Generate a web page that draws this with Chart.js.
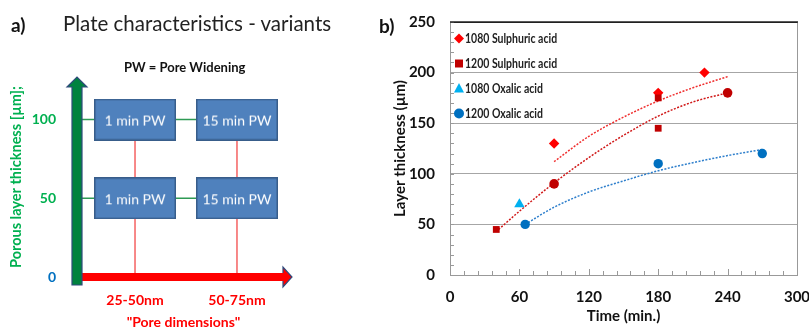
<!DOCTYPE html>
<html>
<head>
<meta charset="utf-8">
<script src="https://cdn.jsdelivr.net/npm/chart.js"></script>
<style>
  html, body { margin: 0; padding: 0; background: #fff; }
  body { width: 809px; height: 333px; position: relative; overflow: hidden; font-family: Lato, "Open Sans", sans-serif; }
  .txt { position: absolute; white-space: nowrap; line-height: 1; color: #111; }
  #wrapA { position: absolute; left: 0; top: 0; width: 360px; height: 333px; }
  #wrapB { position: absolute; left: 360px; top: 0; width: 449px; height: 333px; }
</style>
</head>
<body>
<div id="wrapA"><canvas id="chartA"></canvas></div>
<div id="wrapB"><canvas id="chartB"></canvas></div>
<div class="txt" style="left:11px; top:15px; font-size:19px; font-weight:bold;">a)</div>
<div class="txt" style="left:63px; top:13px; font-size:20.5px; color:#222;">Plate characteristics - variants</div>
<div class="txt" style="left:124px; top:61px; font-size:13px; font-weight:bold;">PW = Pore Widening</div>
<div class="txt" style="left:379px; top:16px; font-size:19px; font-weight:bold;">b)</div>
<script>
// ---- panel a) data ----
const poreLabels = ['25-50nm', '50-75nm'];
const poreIndex = [1, 2];
const thicknessLevels = [50, 100];
const thicknessTicks = [0, 50, 100];
const wideningLabels = ['1 min PW', '15 min PW'];

// ---- panel b) data ----
const seriesNames = ['1080 Sulphuric acid', '1200 Sulphuric acid', '1080 Oxalic acid', '1200 Oxalic acid'];
const time1080S = [90, 180, 220];
const thick1080S = [130, 180, 200];
const time1200S = [40, 90, 180, 180, 240];
const thick1200S = [45, 90, 175, 145, 180];
const time1080O = [60];
const thick1080O = [70];
const time1200O = [65, 180, 270];
const thick1200O = [50, 110, 120];

// trend lines
const trend1080S_t = [90, 120, 150, 180, 210, 240];
const trend1080S_y = [112, 137, 156, 172, 185, 196];
const trend1200S_t = [42, 60, 90, 120, 150, 180, 210, 240];
const trend1200S_y = [45, 63, 91, 116, 138, 157, 171, 180];
const trend1200O_t = [65, 90, 120, 150, 180, 210, 240, 270];
const trend1200O_y = [50, 67, 82, 93, 103, 111, 118, 124];

const timeTicksMajor = 60;

const pts = (xs, ys) => xs.map((x, i) => ({ x: x, y: ys[i] }));

// ================= panel a =================
function makeBox(text) {
  const c = document.createElement('canvas');
  c.width = 82; c.height = 42;
  const g = c.getContext('2d');
  g.fillStyle = '#4F81BD';
  g.fillRect(0, 0, 82, 42);
  g.strokeStyle = '#385D8A';
  g.lineWidth = 1.5;
  g.strokeRect(0.75, 0.75, 80.5, 40.5);
  g.fillStyle = '#fff';
  g.font = '14px Lato, sans-serif';
  g.textAlign = 'center';
  g.textBaseline = 'middle';
  g.fillText(text, 41, 22);
  return c;
}

const boxPoints = [];
const boxStyles = [];
thicknessLevels.forEach(t => {
  poreIndex.forEach((p, j) => {
    boxPoints.push({ x: p, y: t });
    boxStyles.push(makeBox(wideningLabels[j]));
  });
});

const X_MIN_A = 0.431;

const datasetsA = [{
  data: boxPoints,
  pointStyle: boxStyles,
  showLine: false,
  order: 0
}];
thicknessLevels.forEach(t => {
  datasetsA.push({
    data: [{ x: X_MIN_A, y: t }, { x: poreIndex[poreIndex.length - 1], y: t }],
    showLine: true, borderColor: '#2E9A55', borderWidth: 1.5, pointRadius: 0, order: 2
  });
});
poreIndex.forEach(p => {
  datasetsA.push({
    data: [{ x: p, y: 0 }, { x: p, y: thicknessLevels[thicknessLevels.length - 1] }],
    showLine: true, borderColor: '#F23A3A', borderWidth: 1.2, pointRadius: 0, order: 2
  });
});

const arrowsPlugin = {
  id: 'arrows',
  afterDatasetsDraw(chart) {
    const { ctx, chartArea: a } = chart;
    ctx.save();
    ctx.lineJoin = 'miter';
    ctx.strokeStyle = '#2F4B7C';
    ctx.lineWidth = 1.2;
    // red horizontal arrow
    const cy = a.bottom;
    const tip = a.right + 2;
    ctx.fillStyle = '#FF0000';
    ctx.beginPath();
    ctx.moveTo(a.left + 5, cy - 4);
    ctx.lineTo(tip - 9, cy - 4);
    ctx.lineTo(tip - 9, cy - 10);
    ctx.lineTo(tip, cy);
    ctx.lineTo(tip - 9, cy + 10);
    ctx.lineTo(tip - 9, cy + 4);
    ctx.lineTo(a.left + 5, cy + 4);
    ctx.closePath();
    ctx.fill();
    ctx.beginPath();
    ctx.moveTo(tip - 9, cy - 4);
    ctx.lineTo(tip - 9, cy - 10);
    ctx.lineTo(tip, cy);
    ctx.lineTo(tip - 9, cy + 10);
    ctx.lineTo(tip - 9, cy + 4);
    ctx.stroke();
    // green vertical arrow
    const cx = a.left;
    ctx.fillStyle = '#00823F';
    ctx.beginPath();
    ctx.moveTo(cx - 5, a.bottom + 8);
    ctx.lineTo(cx - 5, a.top + 10);
    ctx.lineTo(cx - 10, a.top + 10);
    ctx.lineTo(cx, a.top);
    ctx.lineTo(cx + 10, a.top + 10);
    ctx.lineTo(cx + 5, a.top + 10);
    ctx.lineTo(cx + 5, a.bottom + 8);
    ctx.closePath();
    ctx.fill();
    ctx.stroke();
    ctx.restore();
  }
};

new Chart(document.getElementById('chartA'), {
  type: 'scatter',
  data: { datasets: datasetsA },
  options: {
    responsive: true,
    maintainAspectRatio: false,
    animation: false,
    events: [],
    layout: { padding: { top: 77, right: 70, left: 0, bottom: 0 } },
    plugins: { legend: { display: false }, tooltip: { enabled: false } },
    scales: {
      x: {
        type: 'linear', min: X_MIN_A, max: 2.52,
        afterBuildTicks: s => { s.ticks = poreIndex.map(v => ({ value: v })); },
        afterFit: s => { s.height = 56; },
        grid: { display: false, drawTicks: false },
        border: { display: false },
        ticks: {
          callback: v => poreLabels[poreIndex.indexOf(v)],
          color: '#FF0000', padding: 15,
          font: { family: 'Lato', size: 14, weight: 'bold' }
        },
        title: {
          display: true, text: '"Pore dimensions"', color: '#FF0000',
          padding: { top: 0, bottom: 2 },
          font: { family: 'Lato', size: 14, weight: 'bold' }
        }
      },
      y: {
        min: 0, max: 127,
        afterBuildTicks: s => { s.ticks = thicknessTicks.map(v => ({ value: v })); },
        afterFit: s => { s.width = 77; },
        grid: { display: false, drawTicks: false },
        border: { display: false },
        ticks: {
          color: c => c.tick.value === 0 ? '#0070C0' : '#00B050',
          padding: 21,
          font: { family: 'Lato', size: 14, weight: 'bold' }
        },
        title: {
          display: true, text: 'Porous layer thickness [µm];', color: '#00B050',
          padding: { top: 8, bottom: 0 },
          font: { family: 'Lato', size: 14.5, weight: 'bold' }
        }
      }
    }
  },
  plugins: [arrowsPlugin]
});

// ================= panel b =================
const markerColors = ['#FF0000', '#C00000', '#00B0F0', '#0070C0'];
const markerStyles = ['rectRot', 'rect', 'triangle', 'circle'];

const frameTicksPlugin = {
  id: 'frameTicks',
  afterDraw(chart) {
    const { ctx, chartArea: a, scales: { x, y } } = chart;
    ctx.save();
    ctx.strokeStyle = '#999';
    ctx.lineWidth = 1;
    ctx.beginPath();
    for (let v = 0; v <= 250; v += 10) {
      const py = Math.round(y.getPixelForValue(v)) + 0.5;
      ctx.moveTo(a.left, py); ctx.lineTo(a.left + 4, py);
    }
    for (let v = 0; v <= 300; v += 12) {
      const px = Math.round(x.getPixelForValue(v)) + 0.5;
      const len = v % timeTicksMajor === 0 ? 6 : 4;
      ctx.moveTo(px, a.bottom); ctx.lineTo(px, a.bottom - len);
    }
    ctx.moveTo(a.right + 0.5, a.top); ctx.lineTo(a.right + 0.5, a.bottom);
    ctx.stroke();
    ctx.strokeStyle = '#222';
    ctx.lineWidth = 1.5;
    ctx.beginPath();
    ctx.moveTo(a.left, a.top); ctx.lineTo(a.right + 1, a.top);
    ctx.stroke();

    // legend inside plot
    const lx = a.left + 9;
    ctx.font = 'bold 12.5px Lato, sans-serif';
    ctx.textBaseline = 'middle';
    seriesNames.forEach((name, i) => {
      const ly = a.top + 16.5 + i * 25;
      ctx.fillStyle = markerColors[i];
      ctx.beginPath();
      if (markerStyles[i] === 'rectRot') {
        ctx.moveTo(lx, ly - 5); ctx.lineTo(lx + 5, ly); ctx.lineTo(lx, ly + 5); ctx.lineTo(lx - 5, ly);
      } else if (markerStyles[i] === 'rect') {
        ctx.rect(lx - 4, ly - 4, 8, 8);
      } else if (markerStyles[i] === 'triangle') {
        ctx.moveTo(lx, ly - 5.5); ctx.lineTo(lx + 5, ly + 4); ctx.lineTo(lx - 5, ly + 4);
      } else {
        ctx.arc(lx, ly, 5, 0, Math.PI * 2);
      }
      ctx.closePath();
      ctx.fill();
      ctx.save();
      ctx.translate(lx + 6, ly + 0.5);
      ctx.scale(0.84, 1);
      ctx.fillStyle = '#222';
      ctx.fillText(name, 0, 0);
      ctx.restore();
    });
    ctx.restore();
  }
};

const trend = (xs, ys, color) => ({
  type: 'line', data: pts(xs, ys), showLine: true,
  borderColor: color, borderWidth: 1.5, borderDash: [2, 1.5],
  pointRadius: 0, cubicInterpolationMode: 'monotone', order: 5
});

new Chart(document.getElementById('chartB'), {
  type: 'scatter',
  data: {
    datasets: [
      { label: seriesNames[0], data: pts(time1080S, thick1080S), pointStyle: 'rectRot', pointRadius: 5.2,
        backgroundColor: markerColors[0], borderWidth: 0, order: 1 },
      { label: seriesNames[1], data: pts(time1200S, thick1200S),
        pointStyle: ['rect', 'circle', 'rect', 'rect', 'circle'], pointRadius: [4.8, 4.8, 4.8, 4.8, 4.8],
        backgroundColor: markerColors[1], borderWidth: 0, order: 0 },
      { label: seriesNames[2], data: pts(time1080O, thick1080O), pointStyle: 'triangle', pointRadius: 6,
        backgroundColor: markerColors[2], borderWidth: 0, order: 1 },
      { label: seriesNames[3], data: pts(time1200O, thick1200O), pointStyle: 'circle', pointRadius: 4.7,
        backgroundColor: markerColors[3], borderWidth: 0, order: 1 },
      trend(trend1080S_t, trend1080S_y, '#F03030'),
      trend(trend1200S_t, trend1200S_y, '#D01818'),
      trend(trend1200O_t, trend1200O_y, '#2E7FCC')
    ]
  },
  options: {
    responsive: true,
    maintainAspectRatio: false,
    animation: false,
    events: [],
    layout: { padding: { top: 22, right: 12, left: 0, bottom: 0 } },
    plugins: { legend: { display: false }, tooltip: { enabled: false } },
    scales: {
      x: {
        type: 'linear', min: 0, max: 300,
        afterFit: s => { s.height = 58; s.paddingLeft = 0; s.paddingRight = 0; },
        grid: { display: false, drawTicks: false },
        border: { color: '#999' },
        ticks: { stepSize: timeTicksMajor, color: '#111', padding: 13,
          font: { family: 'Lato', size: 15, weight: 'bold' } },
        title: { display: true, text: 'Time (min.)', color: '#111',
          padding: { top: 0, bottom: 8 },
          font: { family: 'Lato', size: 15, weight: 'bold' } }
      },
      y: {
        min: 0, max: 250,
        afterFit: s => { s.width = 90; s.paddingTop = 0; s.paddingBottom = 0; },
        grid: { drawTicks: false, color: c => c.tick.value === 250 ? '#222' : '#A6A6A6' },
        border: { color: '#999' },
        ticks: { stepSize: 50, color: '#111', padding: 15,
          font: { family: 'Lato', size: 15, weight: 'bold' } },
        title: { display: true, text: 'Layer thickness (µm)', color: '#111',
          padding: { top: 31, bottom: 0 },
          font: { family: 'Lato', size: 15, weight: 'bold' } }
      }
    }
  },
  plugins: [frameTicksPlugin]
});
</script>
</body>
</html>
